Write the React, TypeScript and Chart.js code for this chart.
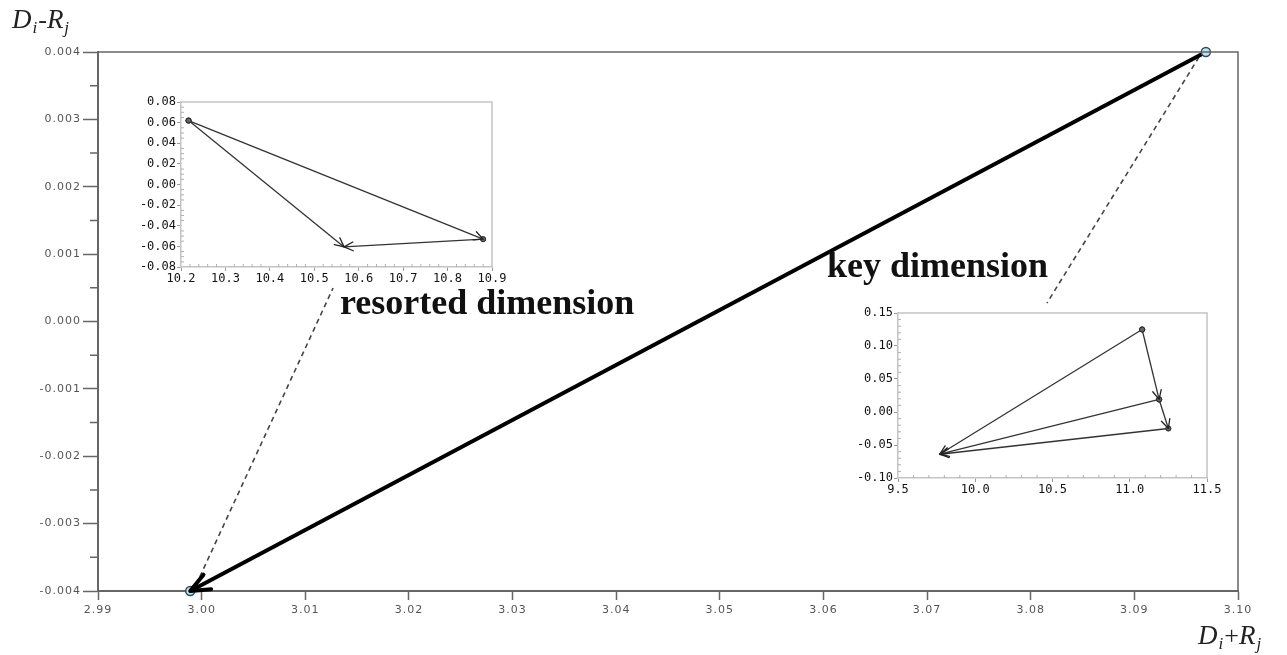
import React, { useEffect, useRef } from 'react';
import { Chart, registerables } from 'chart.js';

Chart.register(...registerables);

// ---------------- data ----------------
// main chart: arrow from the key dimension to the resorted dimension
const mainX = [3.0969, 2.9989];
const mainY = [0.004, -0.004];
const mainXTicks = [2.99, 3.0, 3.01, 3.02, 3.03, 3.04, 3.05, 3.06, 3.07, 3.08, 3.09, 3.1];
const mainYTicks = [-0.004, -0.003, -0.002, -0.001, 0, 0.001, 0.002, 0.003, 0.004];

// dashed leader lines (main-chart data coordinates)
const leaderFromX = [2.99946, 3.09624];
const leaderFromY = [-0.003911, 0.003926];
const leaderToX = [3.01268, 3.08157];
const leaderToY = [0.000497, 0.000275];

// annotation labels
const noteTexts = ['resorted dimension', 'key dimension'];
const noteX = [3.01335, 3.06034];
const noteY = [0.000111, 0.00066];

// inset 1 (resorted dimension)
const inset1X = [10.217, 10.88, 10.567];
const inset1Y = [0.062, -0.053, -0.0605];
const inset1Arrows = [[0, 1], [1, 2], [0, 2]];
const inset1XTicks = [10.2, 10.3, 10.4, 10.5, 10.6, 10.7, 10.8, 10.9];
const inset1YTicks = [-0.08, -0.06, -0.04, -0.02, 0, 0.02, 0.04, 0.06, 0.08];

// inset 2 (key dimension)
const inset2X = [11.08, 11.19, 11.25, 9.77];
const inset2Y = [0.125, 0.019, -0.025, -0.064];
const inset2Arrows = [[0, 1], [1, 2], [0, 3], [1, 3], [2, 3]];
const inset2XTicks = [9.5, 10.0, 10.5, 11.0, 11.5];
const inset2YTicks = [-0.1, -0.05, 0, 0.05, 0.1, 0.15];

// ---------------- plugins ----------------
const arrowPlugin = {
  id: 'arrowheads',
  afterDatasetsDraw(chart: any, _a: any, opts: any) {
    const ctx = chart.ctx;
    chart.data.datasets.forEach((ds: any, i: number) => {
      if (!ds.arrow) return;
      const pts = chart.getDatasetMeta(i).data;
      const a = pts[pts.length - 2];
      const b = pts[pts.length - 1];
      const ang = Math.atan2(b.y - a.y, b.x - a.x);
      ctx.save();
      ctx.letterSpacing = '0px';
      ctx.strokeStyle = opts.color;
      ctx.lineWidth = opts.width;
      ctx.lineCap = 'round';
      ctx.beginPath();
      for (const s of [-1, 1]) {
        ctx.moveTo(b.x, b.y);
        ctx.lineTo(b.x - opts.len * Math.cos(ang + s * opts.spread), b.y - opts.len * Math.sin(ang + s * opts.spread));
      }
      ctx.stroke();
      ctx.restore();
    });
  },
};

const minorTickPlugin = {
  id: 'minorTicks',
  afterDraw(chart: any, _a: any, opts: any) {
    const ctx = chart.ctx;
    const ca = chart.chartArea;
    ctx.save();
    for (const axis of ['x', 'y']) {
      const o = opts[axis];
      if (!o) continue;
      const sc = chart.scales[axis];
      const vals = sc.ticks.map((t: any) => t.value);
      ctx.strokeStyle = o.color;
      ctx.lineWidth = o.width;
      ctx.beginPath();
      for (let i = 0; i < vals.length - 1; i++) {
        for (let k = 1; k < o.div; k++) {
          const v = vals[i] + ((vals[i + 1] - vals[i]) * k) / o.div;
          const p = sc.getPixelForValue(v);
          if (axis === 'x') {
            ctx.moveTo(p, ca.bottom);
            ctx.lineTo(p, ca.bottom + (o.inward ? -o.len : o.len));
          } else {
            ctx.moveTo(ca.left, p);
            ctx.lineTo(ca.left + (o.inward ? o.len : -o.len), p);
          }
        }
      }
      ctx.stroke();
    }
    ctx.restore();
  },
};

const boxPlugin = {
  id: 'boxEdges',
  afterDraw(chart: any, _a: any, opts: any) {
    const ctx = chart.ctx;
    const ca = chart.chartArea;
    ctx.save();
    ctx.strokeStyle = opts.color;
    ctx.lineWidth = opts.width;
    ctx.beginPath();
    ctx.moveTo(ca.left, ca.top);
    ctx.lineTo(ca.right, ca.top);
    ctx.lineTo(ca.right, ca.bottom);
    ctx.stroke();
    ctx.restore();
  },
};

function drawSubLabel(ctx: any, parts: any[], x: number, y: number) {
  let cx = x;
  for (const p of parts) {
    ctx.font = p.sub
      ? "italic 17px 'Liberation Serif'"
      : p.italic
      ? "italic 27px 'Liberation Serif'"
      : "26px 'Liberation Serif'";
    ctx.fillText(p.t, cx, y + (p.sub ? 5 : 0));
    cx += ctx.measureText(p.t).width + (p.gap || 0);
  }
}

const mainDecor = {
  id: 'mainDecor',
  beforeDraw(chart: any) {
    chart.ctx.letterSpacing = '1px';
  },
  beforeDatasetsDraw(chart: any) {
    const ctx = chart.ctx;
    const xs = chart.scales.x;
    const ys = chart.scales.y;
    ctx.save();
    ctx.strokeStyle = '#444';
    ctx.lineWidth = 1.6;
    ctx.setLineDash([5, 4]);
    ctx.beginPath();
    for (let i = 0; i < leaderFromX.length; i++) {
      ctx.moveTo(xs.getPixelForValue(leaderFromX[i]), ys.getPixelForValue(leaderFromY[i]));
      ctx.lineTo(xs.getPixelForValue(leaderToX[i]), ys.getPixelForValue(leaderToY[i]));
    }
    ctx.stroke();
    ctx.restore();
  },
  afterDraw(chart: any) {
    const ctx = chart.ctx;
    const xs = chart.scales.x;
    const ys = chart.scales.y;
    const ca = chart.chartArea;
    ctx.save();
    ctx.letterSpacing = '0px';
    ctx.fillStyle = '#111';
    ctx.textAlign = 'left';
    ctx.textBaseline = 'alphabetic';
    ctx.font = "bold 36px 'Liberation Serif'";
    for (let i = 0; i < noteTexts.length; i++) {
      ctx.fillText(noteTexts[i], xs.getPixelForValue(noteX[i]), ys.getPixelForValue(noteY[i]));
    }
    ctx.fillStyle = '#222';
    drawSubLabel(
      ctx,
      [{ t: 'D', italic: true, gap: 1 }, { t: 'i', sub: true, gap: 1 }, { t: '-' }, { t: 'R', italic: true, gap: 1 }, { t: 'j', sub: true }],
      ca.left - 86,
      ca.top - 24
    );
    drawSubLabel(
      ctx,
      [{ t: 'D', italic: true, gap: 1 }, { t: 'i', sub: true, gap: 1 }, { t: '+' }, { t: 'R', italic: true, gap: 1 }, { t: 'j', sub: true }],
      ca.right - 40,
      ca.bottom + 53
    );
    ctx.restore();
  },
};

// ---------------- helpers ----------------
function fixedTicks(values: number[]) {
  return (s: any) => {
    s.ticks = values.map((v) => ({ value: v }));
  };
}

function insetConfig(xs: number[], ys: number[], arrows: number[][], xT: number[], yT: number[], xDec: number, yDec: number, yW: number, xH: number, pad: any, xDiv: number, yDiv: number) {
  const tickFont = { family: "'DejaVu Sans Mono'", size: 12 };
  const datasets = arrows.map(([a, b]) => ({
    type: 'line',
    data: [
      { x: xs[a], y: ys[a] },
      { x: xs[b], y: ys[b] },
    ],
    borderColor: '#333',
    borderWidth: 1.3,
    pointRadius: [2.6, 0],
    pointBackgroundColor: '#666',
    pointBorderColor: '#222',
    pointBorderWidth: 1,
    fill: false,
    clip: false,
    arrow: true,
  }));
  return {
    type: 'line',
    data: { datasets },
    options: {
      responsive: false,
      animation: false,
      events: [],
      layout: { padding: pad },
      plugins: {
        legend: { display: false },
        tooltip: { enabled: false },
        arrowheads: { len: 10, spread: 0.45, width: 1.3, color: '#222' },
        boxEdges: { color: '#c4c4c4', width: 1.5 },
        minorTicks: {
          x: { div: xDiv, len: 3, inward: true, color: '#b0b0b0', width: 1 },
          y: { div: yDiv, len: 3, inward: true, color: '#b0b0b0', width: 1 },
        },
      },
      scales: {
        x: {
          type: 'linear',
          min: xT[0],
          max: xT[xT.length - 1],
          afterBuildTicks: fixedTicks(xT),
          afterFit: (s: any) => {
            s.height = xH;
          },
          ticks: { callback: (v: any) => Number(v).toFixed(xDec), color: '#111', font: tickFont, padding: 1, maxRotation: 0, autoSkip: false },
          grid: { display: true, drawOnChartArea: false, drawTicks: true, tickLength: 4, tickColor: '#999', tickWidth: 1 },
          border: { display: true, color: '#c4c4c4', width: 1.5 },
        },
        y: {
          type: 'linear',
          min: yT[0],
          max: yT[yT.length - 1],
          afterBuildTicks: fixedTicks(yT),
          afterFit: (s: any) => {
            s.width = yW;
          },
          ticks: { callback: (v: any) => Number(v).toFixed(yDec), color: '#111', font: tickFont, padding: 1, autoSkip: false },
          grid: { display: true, drawOnChartArea: false, drawTicks: true, tickLength: 4, tickColor: '#999', tickWidth: 1 },
          border: { display: true, color: '#c4c4c4', width: 1.5 },
        },
      },
    },
    plugins: [arrowPlugin, boxPlugin, minorTickPlugin],
  };
}

// ---------------- component ----------------
export default function App() {
  const mainRef = useRef<HTMLCanvasElement>(null);
  const in1Ref = useRef<HTMLCanvasElement>(null);
  const in2Ref = useRef<HTMLCanvasElement>(null);

  useEffect(() => {
    const pts = mainX.map((x, i) => ({ x, y: mainY[i] }));
    const tickFont = { family: "'DejaVu Sans'", size: 11 };
    const main = new Chart(mainRef.current as HTMLCanvasElement, {
      type: 'scatter',
      data: {
        datasets: [
          {
            type: 'scatter',
            data: pts,
            pointRadius: 4.5,
            pointBackgroundColor: '#bfe3f2',
            pointBorderColor: '#2f4b5a',
            pointBorderWidth: 1.5,
            clip: false,
            order: 1,
          } as any,
          {
            type: 'line',
            data: pts,
            borderColor: '#000',
            borderWidth: 4,
            pointRadius: 0,
            fill: false,
            clip: false,
            arrow: true,
            order: 2,
          } as any,
        ],
      },
      options: {
        responsive: false,
        animation: false,
        events: [],
        layout: { padding: { left: 0, right: 49, top: 52, bottom: 0 } },
        plugins: {
          legend: { display: false },
          tooltip: { enabled: false },
          arrowheads: { len: 21, spread: 0.4, width: 4, color: '#000' },
          boxEdges: { color: '#666', width: 1.5 },
          minorTicks: { y: { div: 2, len: 8, inward: false, color: '#666', width: 1.5 } },
        } as any,
        scales: {
          x: {
            type: 'linear',
            min: mainXTicks[0],
            max: mainXTicks[mainXTicks.length - 1],
            afterBuildTicks: fixedTicks(mainXTicks),
            afterFit: (s: any) => {
              s.height = 64;
            },
            ticks: { callback: (v: any) => Number(v).toFixed(2), color: '#555', font: tickFont, padding: 4, maxRotation: 0, autoSkip: false },
            grid: { display: true, drawOnChartArea: false, drawTicks: true, tickLength: 9, tickColor: '#666', tickWidth: 1.5 },
            border: { display: true, color: '#666', width: 2 },
          },
          y: {
            type: 'linear',
            min: mainYTicks[0],
            max: mainYTicks[mainYTicks.length - 1],
            afterBuildTicks: fixedTicks(mainYTicks),
            afterFit: (s: any) => {
              s.width = 98;
            },
            ticks: { callback: (v: any) => Number(v).toFixed(3), color: '#555', font: tickFont, padding: 2, autoSkip: false },
            grid: { display: true, drawOnChartArea: false, drawTicks: true, tickLength: 15, tickColor: '#666', tickWidth: 1.5 },
            border: { display: true, color: '#666', width: 2 },
          },
        },
      },
      plugins: [mainDecor, arrowPlugin, boxPlugin, minorTickPlugin],
    } as any);

    const in1 = new Chart(
      in1Ref.current as HTMLCanvasElement,
      insetConfig(inset1X, inset1Y, inset1Arrows, inset1XTicks, inset1YTicks, 1, 2, 61, 31, { left: 0, top: 10, right: 18, bottom: 0 }, 5, 4) as any
    );
    const in2 = new Chart(
      in2Ref.current as HTMLCanvasElement,
      insetConfig(inset2X, inset2Y, inset2Arrows, inset2XTicks, inset2YTicks, 1, 2, 48, 30, { left: 0, top: 10, right: 33, bottom: 0 }, 5, 5) as any
    );

    return () => {
      main.destroy();
      in1.destroy();
      in2.destroy();
    };
  }, []);

  return (
    <div style={{ position: 'fixed', left: 0, top: 0, width: 1287, height: 655, background: '#fff', overflow: 'hidden' }}>
      <canvas ref={mainRef} width={1287} height={655} style={{ position: 'absolute', left: 0, top: 0 }} />
      <canvas ref={in1Ref} width={390} height={206} style={{ position: 'absolute', left: 120, top: 92 }} />
      <canvas ref={in2Ref} width={390} height={205} style={{ position: 'absolute', left: 850, top: 303 }} />
    </div>
  );
}
